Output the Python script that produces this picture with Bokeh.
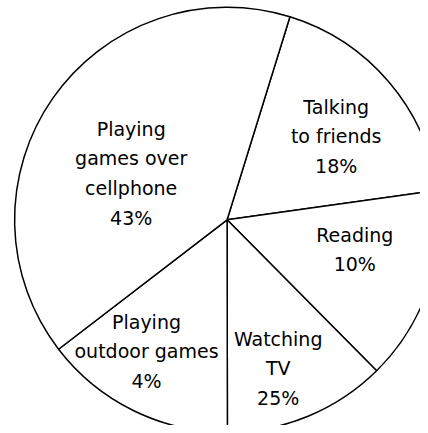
import math
from bokeh.plotting import figure
from bokeh.models import Range1d, ColumnDataSource
from bokeh.core.properties import value
from bokeh.embed import file_html
from bokeh.resources import INLINE

# ---- data ----
categories = ["Talking to friends", "Reading", "Watching TV",
              "Playing outdoor games", "Playing games over cellphone"]
label_lines = [["Talking", "to friends"], ["Reading"], ["Watching", "TV"],
               ["Playing", "outdoor games"], ["Playing", "games over", "cellphone"]]
label_percent = ["18%", "10%", "25%", "4%", "43%"]
# slice sizes as drawn in the picture (percent of the circle)
drawn_share = [18.0, 14.8, 12.4, 14.6, 40.2]

# ---- layout (pixel-like coordinates, y measured upward from the bottom) ----
W, H = 420, 425
cx, cy, r = 226.6, H - 219.3, 212.5
start_deg = 17.2   # clockwise from 12 o'clock where the first slice begins
# first-line centre of each label block, and line spacing
label_pos = [(335.7, H - 106.0), (354.3, H - 234.3), (277.7, H - 338.3),
             (146.0, H - 321.0), (130.7, H - 128.3)]
line_gap = 29.6

p = figure(width=W, height=H, output_backend="svg", toolbar_location=None,
           x_range=Range1d(0, W), y_range=Range1d(0, H),
           min_border=0, match_aspect=False)
p.axis.visible = False
p.grid.visible = False
p.outline_line_color = None
p.background_fill_color = "white"
p.border_fill_color = "white"

starts, ends = [], []
acc = start_deg
for s in drawn_share:
    a0 = acc
    a1 = acc + s / 100 * 360
    # convert clockwise-from-top to math angle (anticlockwise from +x)
    starts.append(math.radians(90 - a1))
    ends.append(math.radians(90 - a0))
    acc = a1

src = ColumnDataSource(dict(x=[cx] * len(categories), y=[cy] * len(categories),
                            start=starts, end=ends, cat=categories))
p.wedge(x="x", y="y", radius=r, start_angle="start", end_angle="end",
        direction="anticlock", fill_color="white", line_color="black",
        line_width=1.5, source=src)

tx, ty, tt = [], [], []
for (lx, ly), lines, pct in zip(label_pos, label_lines, label_percent):
    for i, t in enumerate(lines + [pct]):
        tx.append(lx)
        ty.append(ly - i * line_gap)
        tt.append(t)

p.text(x=tx, y=ty, text=tt, text_align="center", text_baseline="middle",
       text_font=value("DejaVu Sans"), text_font_size="19px", text_color="black")

open("out.html", "w").write(file_html(p, INLINE))
